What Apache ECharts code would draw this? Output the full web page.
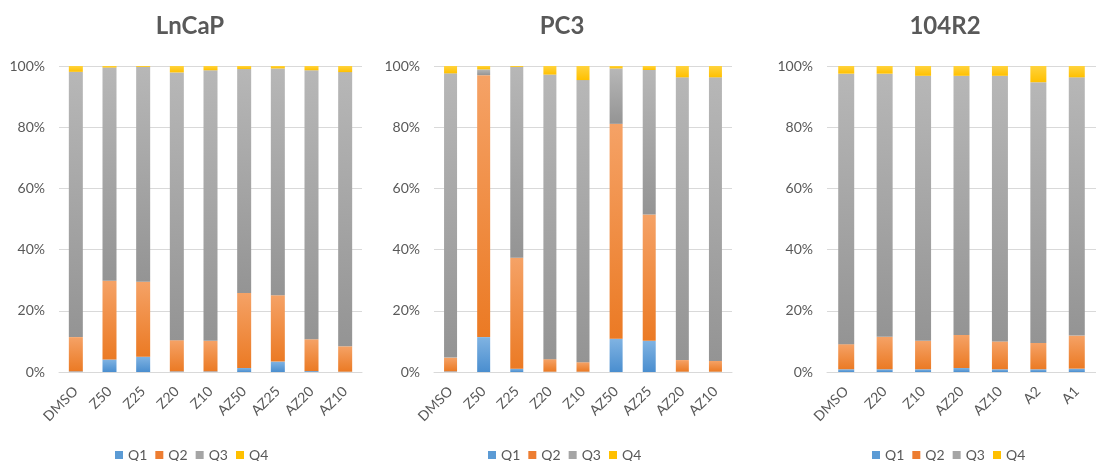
<!DOCTYPE html>
<html>
<head>
<meta charset="utf-8">
<title>Cell-cycle quartile distribution</title>
<script src="https://cdn.jsdelivr.net/npm/echarts@6/dist/echarts.min.js"></script>
<style>
  html, body { margin: 0; padding: 0; background: #ffffff; }
  #chart { width: 1096px; height: 461px; }
</style>
</head>
<body>
<div id="chart"></div>
<script>
// Quartile shares (%) per treatment, one panel per cell line
const quartileNames = ['Q1', 'Q2', 'Q3', 'Q4'];
const yTickLabels = ['0%', '20%', '40%', '60%', '80%', '100%'];

const lncapCategories = ['DMSO', 'Z50', 'Z25', 'Z20', 'Z10', 'AZ50', 'AZ25', 'AZ20', 'AZ10'];
const lncapQ1 = [0.2, 4.1, 5.0, 0.2, 0.2, 1.3, 3.4, 0.3, 0.1];
const lncapQ2 = [11.2, 25.7, 24.5, 10.2, 10.0, 24.5, 21.7, 10.4, 8.3];
const lncapQ3 = [86.7, 69.7, 70.2, 87.5, 88.4, 73.2, 74.1, 87.9, 89.6];
const lncapQ4 = [1.9, 0.5, 0.3, 2.1, 1.4, 1.0, 0.8, 1.4, 2.0];

const pc3Categories = ['DMSO', 'Z50', 'Z25', 'Z20', 'Z10', 'AZ50', 'AZ25', 'AZ20', 'AZ10'];
const pc3Q1 = [0.2, 11.4, 1.1, 0.1, 0.1, 10.9, 10.2, 0.1, 0.1];
const pc3Q2 = [4.5, 85.6, 36.2, 4.1, 3.1, 70.2, 41.3, 3.8, 3.5];
const pc3Q3 = [92.9, 1.9, 62.4, 93.0, 92.2, 18.1, 47.2, 92.4, 92.7];
const pc3Q4 = [2.4, 1.1, 0.3, 2.8, 4.6, 0.8, 1.3, 3.7, 3.7];

const r104Categories = ['DMSO', 'Z20', 'Z10', 'AZ20', 'AZ10', 'A2', 'A1'];
const r104Q1 = [0.9, 0.9, 0.9, 1.3, 0.9, 0.9, 1.1];
const r104Q2 = [8.2, 10.6, 9.3, 10.8, 9.1, 8.6, 10.8];
const r104Q3 = [88.4, 86.0, 86.6, 84.7, 86.8, 85.2, 84.4];
const r104Q4 = [2.5, 2.5, 3.2, 3.2, 3.2, 5.3, 3.7];

const panels = [
  { title: 'LnCaP', categories: lncapCategories, values: [lncapQ1, lncapQ2, lncapQ3, lncapQ4],
    grid: { left: 59, width: 303 }, barWidth: 14, titleX: 190, legendLeft: 115 },
  { title: 'PC3', categories: pc3Categories, values: [pc3Q1, pc3Q2, pc3Q3, pc3Q4],
    grid: { left: 434, width: 298 }, barWidth: 13, titleX: 562, legendLeft: 488 },
  { title: '104R2', categories: r104Categories, values: [r104Q1, r104Q2, r104Q3, r104Q4],
    grid: { left: 827, width: 280 }, barWidth: 16, titleX: 945, legendLeft: 872 }
];

// Each segment shades from a lighter top to a deeper bottom
const segmentColors = [
  ['#80b3e2', '#4a8ecf'],
  ['#f5a266', '#eb7a24'],
  ['#b7b7b7', '#949494'],
  ['#ffd33d', '#ffc000']
];
const legendColors = ['#5b9bd5', '#ed7d31', '#a5a5a5', '#ffc000'];

function gradient(pair) {
  return new echarts.graphic.LinearGradient(0, 0, 0, 1, [
    { offset: 0, color: pair[0] },
    { offset: 1, color: pair[1] }
  ]);
}

const textColor = '#595959';
const fontFamily = 'Lato, "Open Sans", sans-serif';

const grids = [], xAxes = [], yAxes = [], series = [], legends = [], titles = [];

panels.forEach((p, i) => {
  grids.push({ left: p.grid.left, width: p.grid.width, top: 66, height: 306, containLabel: false });
  xAxes.push({
    type: 'category', gridIndex: i, data: p.categories,
    axisLine: { lineStyle: { color: '#d9d9d9', width: 1 } },
    axisTick: { show: false },
    axisLabel: { rotate: 45, margin: 17, color: textColor, fontSize: 14, fontFamily: fontFamily, interval: 0 }
  });
  yAxes.push({
    type: 'value', gridIndex: i, min: 0, max: 100, interval: 20,
    axisLine: { show: false }, axisTick: { show: false },
    splitLine: { lineStyle: { color: '#d9d9d9', width: 1 } },
    axisLabel: {
      margin: 14, color: textColor, fontSize: 14, fontFamily: fontFamily,
      formatter: v => yTickLabels[Math.round(v / 20)]
    }
  });
  quartileNames.forEach((q, k) => {
    series.push({
      type: 'bar', name: q, stack: 'panel' + i,
      xAxisIndex: i, yAxisIndex: i,
      data: p.values[k], barWidth: p.barWidth,
      itemStyle: { color: gradient(segmentColors[k]) },
      emphasis: { disabled: true }
    });
  });
  legends.push({
    data: quartileNames.map((q, k) => ({ name: q, itemStyle: { color: legendColors[k] } })),
    left: p.legendLeft, top: 448, padding: 0,
    icon: 'rect', itemWidth: 8, itemHeight: 8, itemGap: 8,
    textStyle: { color: textColor, fontSize: 14, fontFamily: fontFamily }
  });
  titles.push({
    type: 'text', x: p.titleX, y: 14,
    style: {
      text: p.title, textAlign: 'center', fill: textColor,
      font: 'bold 24px ' + fontFamily
    }
  });
});

const chart = echarts.init(document.getElementById('chart'), null, { renderer: 'canvas' });
chart.setOption({
  animation: false,
  backgroundColor: '#ffffff',
  grid: grids,
  xAxis: xAxes,
  yAxis: yAxes,
  legend: legends,
  series: series,
  graphic: titles
});
</script>
</body>
</html>
